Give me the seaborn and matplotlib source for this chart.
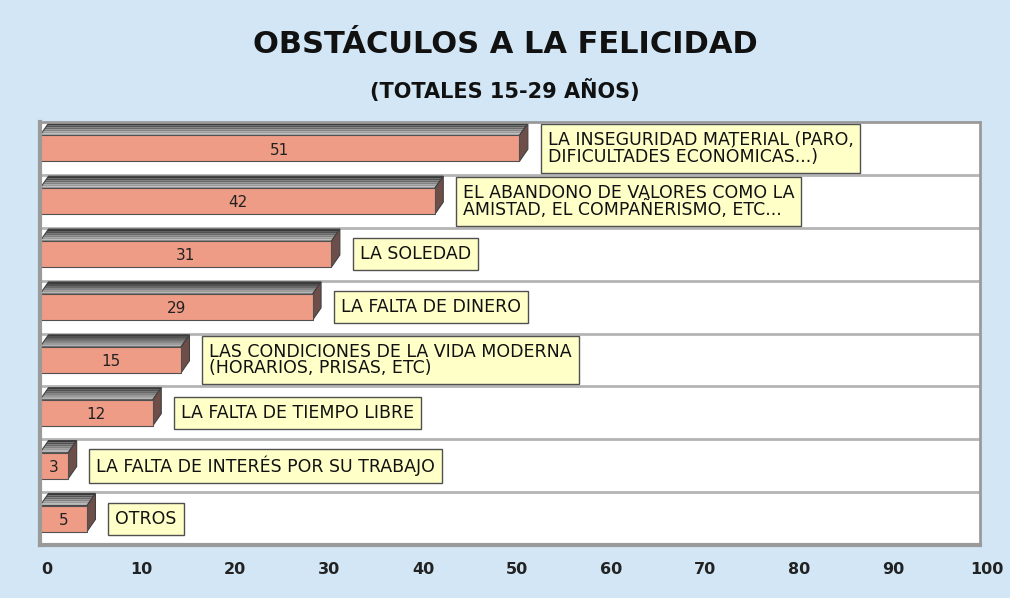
import matplotlib
matplotlib.use("Agg")
import matplotlib.pyplot as plt
import matplotlib.transforms as mtransforms
from matplotlib.patches import Polygon
import numpy as np
import pandas as pd
import seaborn as sns

# Datos del gráfico
titulo = "Obstáculos a la felicidad"
subtitulo = "(Totales 15-29 años)"
obstaculos = [
    "La inseguridad material (paro,\ndificultades económicas...)",
    "El abandono de valores como la\namistad, el compañerismo, etc...",
    "La soledad",
    "La falta de dinero",
    "Las condiciones de la vida moderna\n(horarios, prisas, etc)",
    "La falta de tiempo libre",
    "La falta de interés por su trabajo",
    "Otros",
]
porcentajes = [51, 42, 31, 29, 15, 12, 3, 5]
ticks_x = [0, 10, 20, 30, 40, 50, 60, 70, 80, 90, 100]

# Colores
fondo = "#d2e6f5"
salmon = "#ee9c86"
lateral = "#6e4e48"
caja = "#ffffc8"

sns.set_style("white")
plt.rcParams["font.family"] = ["DejaVu Sans"]

fig = plt.figure(figsize=(10.1, 5.98), dpi=100, facecolor=fondo)
ax = fig.add_axes([0.0396, 0.0886, 0.9307, 0.7074])
ax.set_facecolor("white")

df = pd.DataFrame({"obstaculo": obstaculos, "valor": porcentajes})
sns.barplot(data=df, x="valor", y="obstaculo", orient="h", color=salmon,
            saturation=1, width=0.49, edgecolor="#505050", linewidth=0.8,
            ax=ax, zorder=3)

ax.set_xlim(0, 100)
ax.set_ylim(len(obstaculos) - 0.5, -0.5)

# Efecto 3D: cara superior con degradado y cara lateral
dx, dy = 0.9, 0.23
oscuro = np.array([0.22, 0.22, 0.22])
claro = np.array([0.70, 0.70, 0.70])
n_bandas = 6
for p in ax.patches:
    x0, y0, w, h = p.get_x(), p.get_y(), p.get_width(), p.get_height()
    for k in range(n_bandas):
        f0 = k / n_bandas
        f1 = (k + 1) / n_bandas
        col = oscuro + (claro - oscuro) * (k / (n_bandas - 1))
        poly = [(x0 + dx * (1 - f0), y0 - dy * (1 - f0)),
                (x0 + w + dx * (1 - f0), y0 - dy * (1 - f0)),
                (x0 + w + dx * (1 - f1), y0 - dy * (1 - f1)),
                (x0 + dx * (1 - f1), y0 - dy * (1 - f1))]
        ax.add_patch(Polygon(poly, closed=True, fc=col, ec="none", zorder=2))
    ax.add_patch(Polygon([(x0, y0), (x0 + dx, y0 - dy), (x0 + w + dx, y0 - dy),
                          (x0 + w, y0)], closed=True, fc="none",
                         ec="#404040", lw=0.8, zorder=2))
    ax.add_patch(Polygon([(x0 + w, y0), (x0 + w + dx, y0 - dy),
                          (x0 + w + dx, y0 + h - dy), (x0 + w, y0 + h)],
                         closed=True, fc=lateral, ec="#404040", lw=0.8, zorder=2))

# Líneas de separación entre filas
for k in range(len(obstaculos) - 1):
    ax.axhline(k + 0.5, color="#b4b4b4", lw=2, zorder=1)

# Valores y etiquetas
for i, (txt, val) in enumerate(zip(obstaculos, porcentajes)):
    ax.text(val / 2, i + 0.03, str(val), ha="center", va="center",
            fontsize=11, color="#222222", zorder=4)
    ax.text(val + 3.0, i, txt.upper(), ha="left", va="center", fontsize=12.5,
            linespacing=0.85, color="#111111", zorder=4,
            bbox=dict(boxstyle="square,pad=0.4", fc=caja, ec="#505050", lw=1))

# Ejes
ax.set_xticks(ticks_x)
ax.set_xticklabels([str(t) for t in ticks_x], fontsize=11.5,
                   fontweight="bold", color="#222222")
ax.tick_params(axis="x", length=0, pad=12)
desplaza = mtransforms.ScaledTranslation(7 / 100, 0, fig.dpi_scale_trans)
for lab in ax.get_xticklabels():
    lab.set_transform(lab.get_transform() + desplaza)
ax.set_yticks([])
ax.set_xlabel("")
ax.set_ylabel("")
for lado, sp in ax.spines.items():
    sp.set_visible(True)
    sp.set_color("#9a9a9a")
    sp.set_linewidth(3 if lado in ("left", "bottom") else 2)
    sp.set_zorder(5)

fig.text(0.5, 0.925, titulo.upper(), ha="center", va="center",
         fontsize=22, fontweight="bold", color="#111111")
fig.text(0.5, 0.849, subtitulo.upper(), ha="center", va="center",
         fontsize=15, fontweight="bold", color="#111111")

fig.savefig("out.png", dpi=100, facecolor=fondo)
